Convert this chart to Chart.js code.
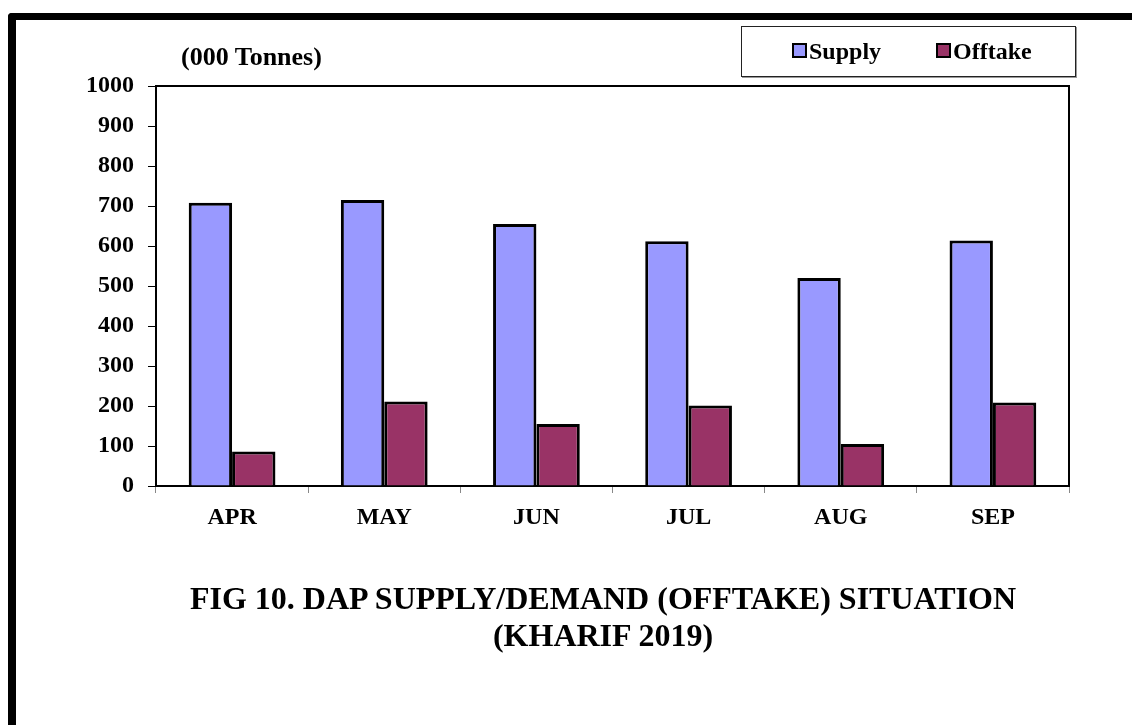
<!DOCTYPE html>
<html>
<head>
<meta charset="utf-8">
<script src="https://cdn.jsdelivr.net/npm/chart.js@4.4.0/dist/chart.umd.min.js"></script>
<style>
  html, body { margin:0; padding:0; background:#fff; }
  body { width:1132px; height:725px; position:relative; overflow:hidden; font-family:"Liberation Serif","Times New Roman",serif; }
  #frame { position:absolute; left:8px; top:13px; width:1200px; height:800px; border-top:7px solid #000; border-left:8px solid #000; border-top-left-radius:4px; box-sizing:border-box; }
  #c { position:absolute; left:0; top:0; }
  #unit { position:absolute; left:181px; top:42px; font-weight:bold; font-size:26px; color:#000; white-space:nowrap; }
  #legend { position:absolute; left:741px; top:26px; width:335px; height:51px; border:1px solid #222; box-shadow:1px 1px 0 #999; box-sizing:border-box; background:#fff; }
  .li { position:absolute; top:10px; font-weight:bold; font-size:24px; line-height:28px; white-space:nowrap; }
  .sw { display:inline-block; width:11px; height:11px; border:2px solid #000; vertical-align:1px; margin-right:2px; }
  #title { position:absolute; left:0; width:1206px; top:580px; text-align:center; font-weight:bold; font-size:32px; line-height:37px; color:#000; }
</style>
</head>
<body>
<div id="frame"></div>
<canvas id="c" width="1132" height="725"></canvas>
<div id="unit">(000 Tonnes)</div>
<div id="legend">
  <div class="li" style="left:50px"><span class="sw" style="background:#9999FF"></span>Supply</div>
  <div class="li" style="left:194px"><span class="sw" style="background:#993366"></span>Offtake</div>
</div>
<div id="title">FIG 10. DAP SUPPLY/DEMAND (OFFTAKE) SITUATION<br>(KHARIF 2019)</div>
<script>
const categories = ["APR", "MAY", "JUN", "JUL", "AUG", "SEP"];
const supply  = [708, 715, 655, 612, 520, 614];
const offtake = [86, 211, 155, 201, 105, 209];
const yTicks  = [0, 100, 200, 300, 400, 500, 600, 700, 800, 900, 1000];

const frameBorder = {
  id: 'frameBorder',
  afterDraw(chart) {
    const a = chart.chartArea, ctx = chart.ctx;
    ctx.save();
    ctx.strokeStyle = '#000';
    ctx.lineWidth = 2;
    ctx.beginPath();
    ctx.moveTo(a.left, a.top);
    ctx.lineTo(a.right, a.top);
    ctx.lineTo(a.right, a.bottom);
    ctx.stroke();
    ctx.restore();
  }
};

const tickFont = { family: '"Liberation Serif","Times New Roman",serif', size: 24, weight: 'bold' };

new Chart(document.getElementById('c'), {
  type: 'bar',
  data: {
    labels: categories,
    datasets: [
      { label: 'Supply', data: supply, backgroundColor: '#9999FF', borderColor: '#000', borderWidth: 3 },
      { label: 'Offtake', data: offtake, backgroundColor: '#993366', borderColor: '#000', borderWidth: 3 }
    ]
  },
  options: {
    responsive: false,
    animation: false,
    devicePixelRatio: 1,
    layout: { padding: { left: 0, top: 86, right: 63, bottom: 179 } },
    plugins: { legend: { display: false }, tooltip: { enabled: false } },
    datasets: { bar: { barPercentage: 1.0, categoryPercentage: 0.57 } },
    scales: {
      x: {
        afterFit(s) { s.height = 60; },
        grid: { drawOnChartArea: false, drawTicks: true, tickLength: 7, color: '#888', lineWidth: 1, offset: true },
        border: { display: true, color: '#000', width: 2 },
        ticks: { color: '#000', font: tickFont, padding: 10 }
      },
      y: {
        min: 0, max: 1000,
        afterFit(s) { s.width = 156; },
        afterBuildTicks(s) { s.ticks = yTicks.map(v => ({ value: v })); },
        grid: { drawOnChartArea: false, drawTicks: true, tickLength: 8, color: '#000', lineWidth: 1 },
        border: { display: true, color: '#000', width: 2 },
        ticks: { color: '#000', font: tickFont, padding: 14, callback: v => String(v) }
      }
    }
  },
  plugins: [frameBorder]
});
</script>
</body>
</html>
